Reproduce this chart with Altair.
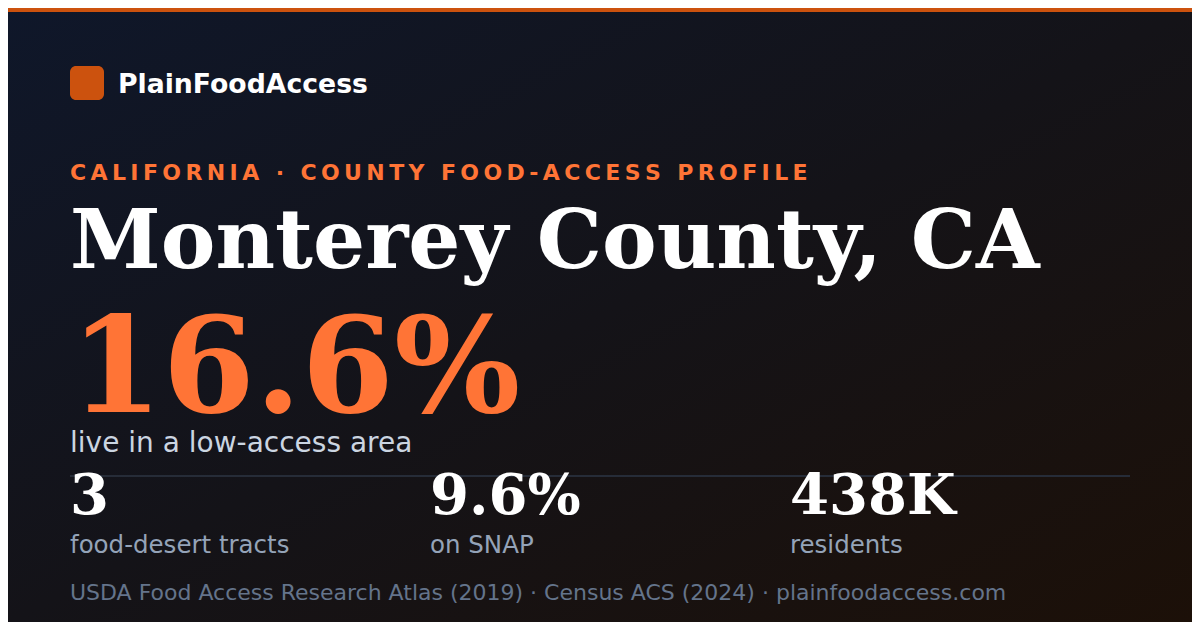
import altair as alt
import pandas as pd

# ---- content ----
brand = ["PlainFoodAccess"]
eyebrow = ["CALIFORNIA · COUNTY FOOD-ACCESS PROFILE"]
title = ["Monterey County, CA"]
headline_value = ["16.6%"]
headline_label = ["live in a low-access area"]
stat_values = ["3", "9.6%", "438K"]
stat_labels = ["food-desert tracts", "on SNAP", "residents"]
stat_x = [62, 422, 782]
footer = ["USDA Food Access Research Atlas (2019) · Census ACS (2024) · plainfoodaccess.com"]

W, H = 1184, 614
one = pd.DataFrame({"k": [0]})

bg = alt.Chart(one).mark_rect(
    fill=alt.Gradient(
        gradient="linear",
        stops=[
            alt.GradientStop(color="#0f172a", offset=0),
            alt.GradientStop(color="#141318", offset=0.5),
            alt.GradientStop(color="#1c1008", offset=1),
        ],
        x1=0, y1=0, x2=1, y2=1,
    )
).encode(x=alt.value(0), x2=alt.value(W), y=alt.value(0), y2=alt.value(H))

topbar = alt.Chart(one).mark_rect(color="#cc520e").encode(
    x=alt.value(0), x2=alt.value(W), y=alt.value(0), y2=alt.value(4)
)

logo = alt.Chart(one).mark_rect(color="#cc520e", cornerRadius=6).encode(
    x=alt.value(62), x2=alt.value(96), y=alt.value(58), y2=alt.value(92)
)


def spaced(s):
    # emulate letter-spacing with thin spaces
    return "\u2009".join(list(s))


def text_layer(values, x, y, size, color, font, weight="normal"):
    df = pd.DataFrame({"t": values})
    return alt.Chart(df).mark_text(
        align="left", baseline="alphabetic", fontSize=size, color=color,
        font=font, fontWeight=weight
    ).encode(x=alt.value(x), y=alt.value(y), text="t:N")


brand_t = text_layer(brand, 110, 85, 26.7, "#ffffff", "DejaVu Sans", "bold")
eyebrow_t = text_layer([spaced(e) for e in eyebrow], 62, 172, 22, "#ff7436", "DejaVu Sans", "bold")
title_t = text_layer(title, 62, 260, 82, "#ffffff", "DejaVu Serif", "bold")
big_t = text_layer(headline_value, 62, 404, 133, "#ff7436", "DejaVu Serif", "bold")
biglab_t = text_layer(headline_label, 62, 444, 28, "#cbd5e1", "DejaVu Sans")

divider = alt.Chart(one).mark_rule(color="#262c38", strokeWidth=2).encode(
    x=alt.value(62), x2=alt.value(1122), y=alt.value(468)
)

stats_df = pd.DataFrame({"v": stat_values, "l": stat_labels, "x": stat_x})
xs = alt.X("x:Q", scale=alt.Scale(domain=[0, W], range=[0, W]), axis=None)
stat_v = alt.Chart(stats_df).mark_text(
    align="left", baseline="alphabetic", fontSize=56, color="#ffffff",
    font="DejaVu Serif", fontWeight="bold"
).encode(x=xs, y=alt.value(506), text="v:N")
stat_l = alt.Chart(stats_df).mark_text(
    align="left", baseline="alphabetic", fontSize=24.5, color="#94a3b8",
    font="DejaVu Sans"
).encode(x=xs, y=alt.value(545), text="l:N")

footer_t = text_layer(footer, 62, 592, 22, "#64748b", "DejaVu Sans")

chart = alt.layer(
    bg, topbar, logo, brand_t, eyebrow_t, title_t, big_t, biglab_t,
    divider, stat_v, stat_l, footer_t
).properties(
    width=W, height=H, padding=0, background="#0f172a"
).configure_view(stroke=None)

chart.save("out.html", embed_options={"renderer": "svg", "actions": False})
